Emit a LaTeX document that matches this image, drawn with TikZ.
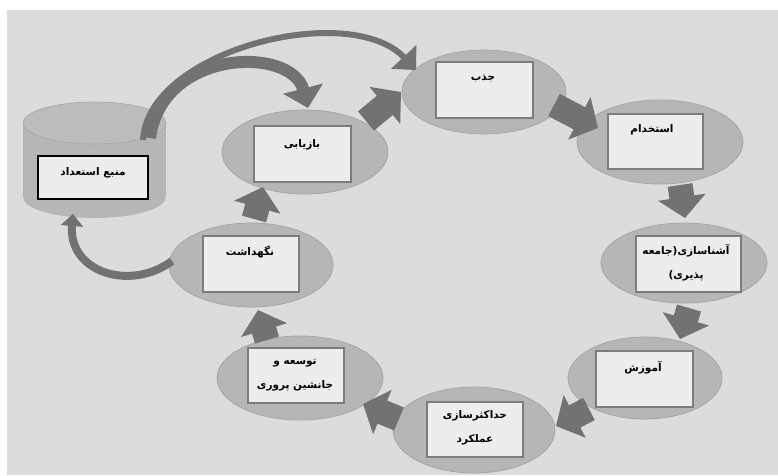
\documentclass[tikz,border=0pt]{standalone}
\usepackage{fontspec}
\newfontfamily\arabicfont[Script=Arabic]{DejaVu Sans}
\TeXXeTstate=1
\usetikzlibrary{shapes.geometric,arrows.meta,calc}
\definecolor{bgc}{HTML}{DCDCDC}
\definecolor{ellfill}{HTML}{B6B6B6}
\definecolor{elldraw}{HTML}{A6A6A6}
\definecolor{boxfill}{HTML}{EDEDED}
\definecolor{boxdraw}{HTML}{7C7C7C}
\definecolor{arrc}{HTML}{727272}
\begin{document}
\begin{tikzpicture}[x=1pt,y=-1pt,
  stage/.style={ellipse, fill=ellfill, draw=elldraw, line width=0.8pt, inner sep=0pt},
  card/.style={rectangle, fill=boxfill, draw=boxdraw, line width=1.3pt, inner sep=0pt, minimum width=97pt, minimum height=56pt},
  lbl/.style={font=\arabicfont\bfseries\fontsize{10.5}{24}\selectfont, align=center, inner sep=0pt},
  blockarrow/.style={draw=arrc, line width=25pt, -{Triangle[width=47pt,length=21pt]}},
  curvearrow/.style={draw=arrc, line width=#1},
]
\useasboundingbox (0,0) rectangle (778,475);
\fill[bgc] (7,10) rectangle (778,475);

% cylinder (talent source)
\fill[ellfill] (23,123) rectangle (166,197);
\fill[ellfill] (94.5,197) ellipse[x radius=71.5, y radius=21];
\fill[ellfill!92!white, draw=elldraw, line width=0.6pt] (94.5,123) ellipse[x radius=71.5, y radius=21];
\node[card, draw=black, line width=1.6pt, minimum width=110pt, minimum height=43pt] (src) at (93,177.5) {};
\node[lbl] (srct) at (93,173) {\beginR منبع استعداد\endR};

% stages
\node[stage, minimum width=164pt, minimum height=84pt] (jazb) at (484,92) {};
\node[stage, minimum width=166pt, minimum height=84pt] (estk) at (660,142) {};
\node[stage, minimum width=166pt, minimum height=80pt] (ashn) at (684,263) {};
\node[stage, minimum width=154pt, minimum height=82pt] (amoz) at (645,378) {};
\node[stage, minimum width=162pt, minimum height=86pt] (hadk) at (474,430) {};
\node[stage, minimum width=166pt, minimum height=84pt] (tose) at (300,378) {};
\node[stage, minimum width=164pt, minimum height=84pt] (negh) at (251,265) {};
\node[stage, minimum width=166pt, minimum height=84pt] (bazy) at (305,152) {};

% cards
\node[card] (jazbb) at (484.5,90) {};
\node[card, minimum width=95pt, minimum height=55pt] (estkb) at (655.5,141.5) {};
\node[card, minimum width=105pt] (ashnb) at (688.5,264) {};
\node[card] (amozb) at (644.5,379) {};
\node[card, minimum width=96pt, minimum height=55pt] (hadkb) at (475,429.5) {};
\node[card, minimum width=96pt, minimum height=55pt] (toseb) at (296,375.5) {};
\node[card, minimum width=96pt] (neghb) at (251,264) {};
\node[card] (bazyb) at (302.5,154) {};

% labels
\node[lbl] (jazbt) at (483,78) {\beginR جذب\endR};
\node[lbl] (estkt) at (652,130) {\beginR استخدام\endR};
\node[lbl] (ashnt) at (686,263) {\beginR آشناسازی(جامعه\endR\\\beginR پذیری)\endR};
\node[lbl] (amozt) at (643,368) {\beginR آموزش\endR};
\node[lbl] (hadkt) at (475,427.5) {\beginR حداکثرسازی\endR\\\beginR عملکرد\endR};
\node[lbl] (toset) at (295,375) {\beginR توسعه و\endR\\\beginR جانشین پروری\endR};
\node[lbl] (neght) at (250,252) {\beginR نگهداشت\endR};
\node[lbl] (bazyt) at (302,145) {\beginR بازیابی\endR};

% block arrows
\coordinate (a1s) at (366,121); \coordinate (a1e) at (401,92);
\coordinate (a2s) at (554,105); \coordinate (a2e) at (598,128);
\coordinate (a3s) at (680,185); \coordinate (a3e) at (685,218);
\coordinate (a4s) at (689,308); \coordinate (a4e) at (680,339);
\coordinate (a5s) at (589,409); \coordinate (a5e) at (556,426);
\coordinate (a6s) at (399,419); \coordinate (a6e) at (363,404);
\coordinate (a7s) at (267,340); \coordinate (a7e) at (258,310);
\coordinate (a8s) at (254,219); \coordinate (a8e) at (263,187);
\draw[blockarrow] (a1s) -- (a1e);
\draw[blockarrow] (a2s) -- (a2e);
\draw[blockarrow] (a3s) -- (a3e);
\draw[blockarrow] (a4s) -- (a4e);
\draw[blockarrow] (a5s) -- (a5e);
\draw[blockarrow] (a6s) -- (a6e);
\draw[blockarrow] (a7s) -- (a7e);
\draw[blockarrow] (a8s) -- (a8e);

% curved arrows
\coordinate (c1s) at (143,140); \coordinate (c1e) at (416,70);
\coordinate (c2s) at (150,138); \coordinate (c2e) at (308,108);
\coordinate (c3s) at (172,261); \coordinate (c3e) at (73,214);
\draw[curvearrow=6pt, -{Triangle[width=34pt,length=18pt]}] (c1s) .. controls (148,50) and (350,0) .. (c1e);
\draw[curvearrow=12pt, -{Triangle[width=40pt,length=20pt]}] (c2s) .. controls (162,48) and (292,46) .. (c2e);
\draw[curvearrow=8pt, -{Triangle[width=22pt,length=12pt]}] (c3s) .. controls (130,292) and (68,272) .. (c3e);
\end{tikzpicture}
\end{document}
